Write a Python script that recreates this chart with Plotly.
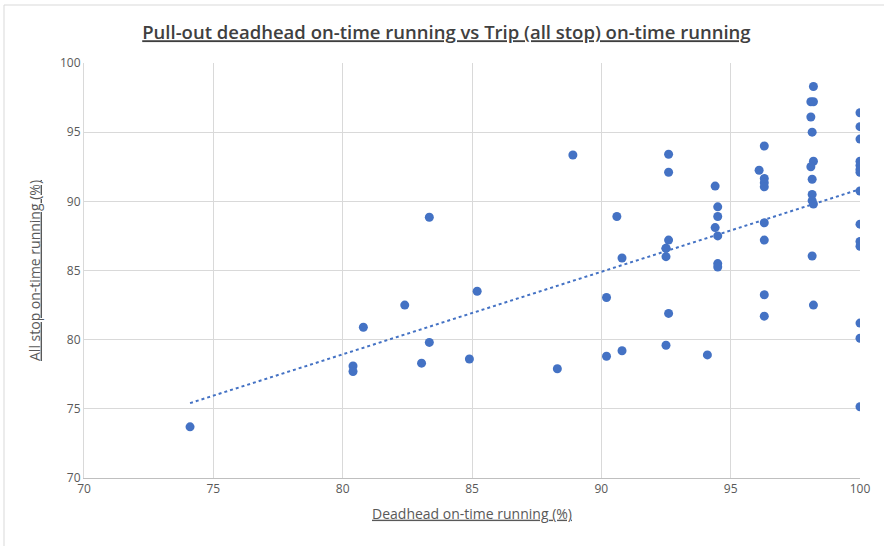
import numpy as np
import plotly.graph_objects as go

deadhead = [74.1, 80.4, 80.4, 80.8, 82.4, 83.35, 83.35, 83.05, 84.9, 85.2, 88.3, 88.9,
            90.2, 90.2, 90.6, 90.8, 90.8,
            92.5, 92.5, 92.5, 92.6, 92.6, 92.6, 92.6, 92.5,
            94.1, 94.4, 94.5, 94.5, 94.4, 94.5, 94.5, 94.5,
            96.1, 96.3, 96.3, 96.3, 96.3, 96.3, 96.3, 96.3, 96.3,
            98.2, 98.1, 98.2, 98.1, 98.15, 98.2, 98.1, 98.15, 98.15, 98.15, 98.2, 98.15, 98.2,
            100, 100, 100, 100, 100, 100, 100, 100, 100, 100, 100, 100, 100, 100]
all_stop = [73.7, 78.1, 77.7, 80.9, 82.5, 88.85, 79.8, 78.3, 78.6, 83.5, 77.9, 93.35,
            83.05, 78.8, 88.9, 85.9, 79.2,
            86.6, 86.0, 79.6, 93.4, 92.1, 87.2, 81.9, 86.6,
            78.9, 91.1, 89.6, 88.9, 88.1, 87.5, 85.5, 85.25,
            92.25, 94.0, 91.65, 91.35, 91.05, 88.45, 87.2, 83.25, 81.7,
            98.3, 97.2, 97.2, 96.1, 95.0, 92.9, 92.5, 91.6, 90.5, 90.05, 89.8, 86.05, 82.5,
            96.4, 95.4, 94.5, 92.9, 92.6, 92.3, 92.1, 90.75, 88.35, 87.1, 86.75, 81.2, 80.1, 75.15]

x_ticks = [70, 75, 80, 85, 90, 95, 100]
y_ticks = [70, 75, 80, 85, 90, 95, 100]

xs = np.array(deadhead)
ys = np.array(all_stop)
slope, intercept = np.polyfit(xs, ys, 1)
tx = np.array([xs.min(), xs.max()])
ty = slope * tx + intercept

font = "Open Sans, sans-serif"
blue = "#4472C4"

fig = go.Figure()
fig.add_trace(go.Scatter(x=tx, y=ty, mode="lines",
                         line=dict(color=blue, width=2, dash="dot"),
                         hoverinfo="skip", showlegend=False))
fig.add_trace(go.Scatter(x=deadhead, y=all_stop, mode="markers",
                         marker=dict(color=blue, size=9, line=dict(width=0)),
                         showlegend=False))

fig.update_layout(
    width=884, height=546,
    margin=dict(l=84, r=24, t=63, b=68),
    paper_bgcolor="white", plot_bgcolor="white",
    font=dict(family=font, color="#595959", size=12),
    title=dict(text="<u>Pull-out deadhead on-time running vs Trip (all stop) on-time running</u>",
               x=0.505, xanchor="center", y=0.94, yanchor="middle",
               font=dict(family=font, size=18.5, color="#404040", weight=600)),
    xaxis=dict(range=[70, 100], tickvals=x_ticks, ticktext=[str(t) for t in x_ticks],
               showgrid=True, gridcolor="#d9d9d9", gridwidth=1,
               showline=True, linecolor="#bfbfbf", linewidth=1,
               zeroline=False, ticks="", ticklen=0,
               title=dict(text="<u>Deadhead on-time running (%)</u>", standoff=12,
                          font=dict(family=font, size=14, color="#595959"))),
    yaxis=dict(range=[70, 100], tickvals=y_ticks, ticktext=[str(t) for t in y_ticks],
               showgrid=True, gridcolor="#d9d9d9", gridwidth=1,
               showline=True, linecolor="#d9d9d9", linewidth=1,
               zeroline=False, ticks="", ticklen=0,
               title=dict(text="<u>All stop on-time running (%)</u>", standoff=16,
                          font=dict(family=font, size=14, color="#595959"))),
)

fig.add_shape(type="rect", xref="paper", yref="paper",
              x0=-80/776, x1=1 + 30/776, y0=-70/415, y1=1 + 58/415,
              line=dict(color="#d9d9d9", width=1), fillcolor="rgba(0,0,0,0)", layer="below")

fig.write_html("out.html", config={"displayModeBar": False},
               post_script="document.body.style.margin='0';document.body.style.overflow='hidden';")
